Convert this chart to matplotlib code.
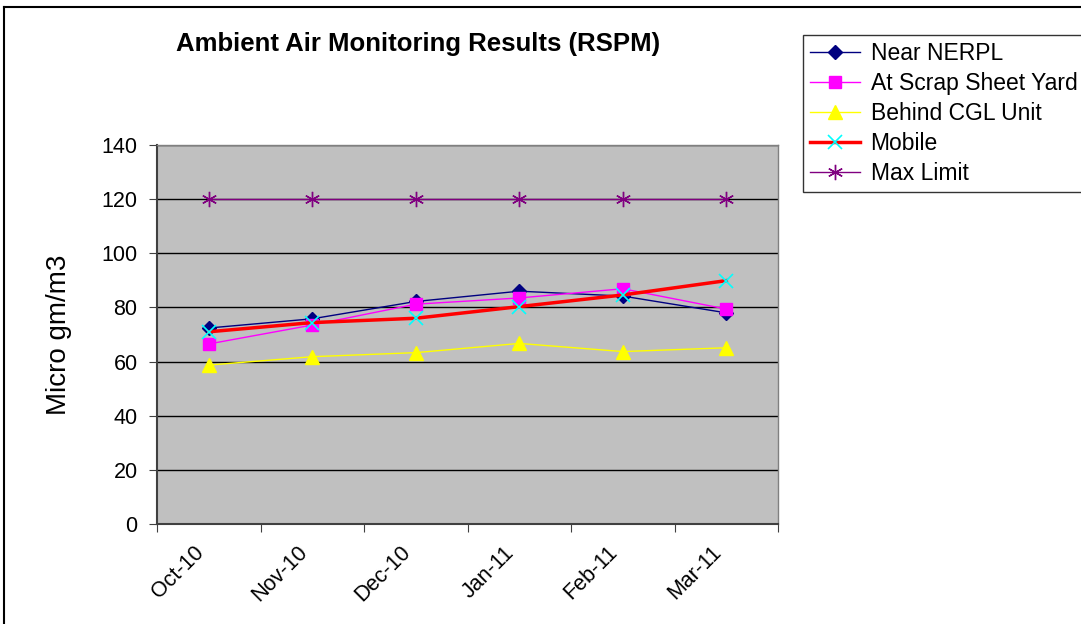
import numpy as np
import matplotlib.pyplot as plt
from matplotlib.lines import Line2D
from matplotlib.transforms import ScaledTranslation

plt.rcParams['font.family'] = ['Liberation Sans', 'DejaVu Sans']

months = ['Oct-10', 'Nov-10', 'Dec-10', 'Jan-11', 'Feb-11', 'Mar-11']
near_nerpl = [72.4, 75.8, 82.2, 86.0, 84.2, 78.0]
scrap_yard = [66.5, 73.5, 81.2, 83.5, 86.9, 79.4]
behind_cgl = [58.7, 61.8, 63.3, 66.7, 63.7, 65.1]
mobile = [71.0, 74.4, 76.0, 80.3, 84.6, 89.9]
max_limit = [120, 120, 120, 120, 120, 120]

fig = plt.figure(figsize=(10.81, 6.24), dpi=100)
ax = fig.add_axes([157/1081, 1-524/624, (778-157)/1081, (524-145)/624])
ax.set_facecolor('#C0C0C0')

x = np.arange(len(months))
ax.plot(x, near_nerpl, color='#000080', lw=1, marker='D', ms=7,
        mfc='#000080', mec='#000080', label='Near NERPL', zorder=3)
ax.plot(x, scrap_yard, color='#FF00FF', lw=1, marker='s', ms=8,
        mfc='#FF00FF', mec='#FF00FF', label='At Scrap Sheet Yard', zorder=3)
ax.plot(x, behind_cgl, color='#FFFF00', lw=1, marker='^', ms=10,
        mfc='#FFFF00', mec='#FFFF00', label='Behind CGL Unit', zorder=3)
ax.plot(x, mobile, color='#FF0000', lw=2.5, marker='x', ms=10, mew=1.2,
        mec='#00FFFF', label='Mobile', zorder=4)
ax.plot(x, max_limit, color='#800080', lw=1, marker=(6, 2, 0), ms=11, mew=1,
        mec='#800080', label='Max Limit', zorder=3)

ax.set_xlim(-0.5, len(months) - 0.5)
ax.set_ylim(0, 140)
ax.set_yticks(np.arange(0, 141, 20))
ax.grid(axis='y', color='black', lw=1)
ax.set_axisbelow(True)

ax.set_xticks(np.arange(-0.5, len(months)), labels=[])
ax.set_xticks(x, labels=months, minor=True)
ax.tick_params(axis='x', which='major', length=6, color='#404040', direction='out')
ax.tick_params(axis='x', which='minor', length=0, labelsize=15.5, rotation=45, pad=14)
ax.tick_params(axis='y', length=6, color='#404040', labelsize=15.5, pad=8)
shift = ScaledTranslation(-0.08, -0.06, fig.dpi_scale_trans)
for lbl in ax.get_xticklabels(minor=True):
    lbl.set_ha('right')
    lbl.set_va('center')
    lbl.set_rotation_mode('anchor')
    lbl.set_transform(lbl.get_transform() + shift)

for side in ['left', 'bottom']:
    ax.spines[side].set_color('#404040')
    ax.spines[side].set_linewidth(1.5)
for side in ['top', 'right']:
    ax.spines[side].set_color('#808080')
    ax.spines[side].set_linewidth(1)

ax.set_ylabel('Micro gm/m3', fontsize=20)
ax.yaxis.set_label_coords(-0.137, 0.5)
fig.text(418/1081, 1-44/624, 'Ambient Air Monitoring Results (RSPM)',
         ha='center', va='center', fontsize=18.5, fontweight='bold')

leg = fig.legend(loc='upper left', bbox_to_anchor=(803/1081, 1-35/624),
                 fontsize=16.5, frameon=True, fancybox=False, edgecolor='black',
                 handlelength=2.2, labelspacing=0.31, borderaxespad=0,
                 handletextpad=0.45, borderpad=0.3)
leg.get_frame().set_linewidth(1)

# outer chart border (only left and top visible, rest is cropped)
fig.add_artist(Line2D([4/1081, 4/1081], [0, 1-7/624], color='black', lw=1.5,
                      transform=fig.transFigure))
fig.add_artist(Line2D([4/1081, 1], [1-7/624, 1-7/624], color='black', lw=1.5,
                      transform=fig.transFigure))

fig.savefig('out.png', dpi=100)
